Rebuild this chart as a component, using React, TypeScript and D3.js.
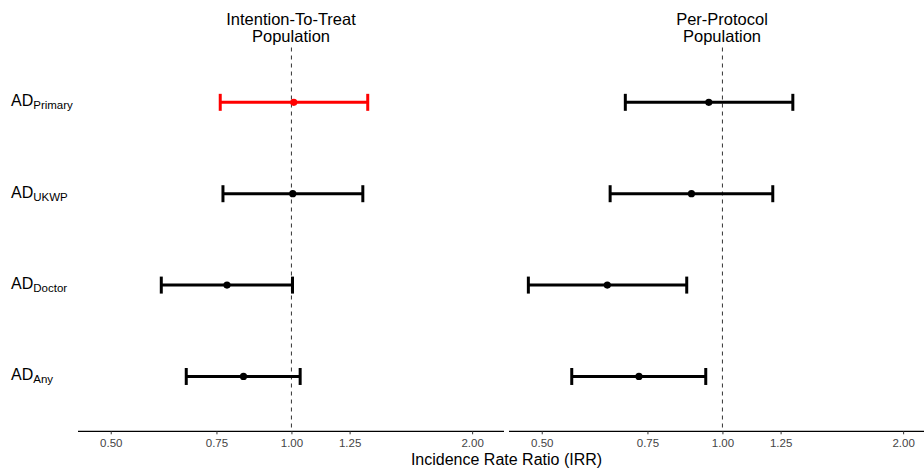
import * as d3 from 'd3';
import React, { useRef, useEffect } from 'react';

// outcome rows, top to bottom
const categories = ['Primary', 'UKWP', 'Doctor', 'Any'];

// intention-to-treat population
const ittEst = [1.009, 1.005, 0.781, 0.832];
const ittLow = [0.761, 0.769, 0.607, 0.668];
const ittHigh = [1.34, 1.315, 1.004, 1.034];

// per-protocol population
const ppEst = [0.949, 0.888, 0.643, 0.726];
const ppLow = [0.689, 0.65, 0.475, 0.561];
const ppHigh = [1.31, 1.213, 0.872, 0.938];

const tickValues = [0.5, 0.75, 1.0, 1.25, 2.0];
const panelTitles = [['Intention-To-Treat', 'Population'], ['Per-Protocol', 'Population']];
const highlight = 'Primary';

export default function App() {
    const ref = useRef<SVGSVGElement>(null);
    const width = 924, height = 468;
    const font = 'Liberation Sans, Arial, sans-serif';

    useEffect(() => {
        const svg = d3.select(ref.current);
        svg.selectAll('*').remove();

        const top = 47.5, bottom = 431.3;
        const panels = [
            { x0: 78, est: ittEst, low: ittLow, high: ittHigh, title: panelTitles[0] },
            { x0: 509, est: ppEst, low: ppLow, high: ppHigh, title: panelTitles[1] },
        ];
        const panelW = 426;

        const y = d3.scalePoint<string>().domain(categories).range([top, bottom]).padding(0.6);

        // row labels
        const labels = svg.append('g');
        categories.forEach((c) => {
            const t = labels.append('text')
                .attr('x', 11)
                .attr('y', y(c)! + 4)
                .style('font-family', font)
                .style('font-size', '16px')
                .style('fill', '#000');
            t.append('tspan').text('AD');
            t.append('tspan')
                .attr('dy', 3)
                .style('font-size', '11.5px')
                .text(c);
        });

        panels.forEach((p) => {
            const x = d3.scaleLog().domain([0.441, 2.26]).range([0, panelW]);
            const g = svg.append('g').attr('transform', `translate(${p.x0},0)`);

            // title
            const title = g.append('text')
                .attr('x', panelW / 2)
                .attr('text-anchor', 'middle')
                .style('font-family', font)
                .style('font-size', '16.5px')
                .style('fill', '#000');
            p.title.forEach((line, i) => {
                title.append('tspan').attr('x', panelW / 2).attr('y', 25 + i * 17).text(line);
            });

            // reference line at 1
            g.append('line')
                .attr('x1', x(1)).attr('x2', x(1))
                .attr('y1', top).attr('y2', bottom)
                .attr('stroke', '#333')
                .attr('stroke-width', 1)
                .attr('stroke-dasharray', '4,4');

            // error bars
            const capH = 8.5;
            categories.forEach((c, i) => {
                const col = c === highlight && p.x0 === 78 ? '#ff0000' : '#000';
                const cy = y(c)!;
                const bar = g.append('g').attr('stroke', col).attr('stroke-width', 3);
                bar.append('line').attr('x1', x(p.low[i])).attr('x2', x(p.high[i])).attr('y1', cy).attr('y2', cy);
                bar.append('line').attr('x1', x(p.low[i])).attr('x2', x(p.low[i])).attr('y1', cy - capH).attr('y2', cy + capH);
                bar.append('line').attr('x1', x(p.high[i])).attr('x2', x(p.high[i])).attr('y1', cy - capH).attr('y2', cy + capH);
                g.append('circle').attr('cx', x(p.est[i])).attr('cy', cy).attr('r', 3.6).attr('fill', col);
            });

            // x axis
            const axis = g.append('g')
                .attr('transform', `translate(0,${bottom})`)
                .call(d3.axisBottom(x).tickValues(tickValues).tickFormat(d3.format('.2f')).tickSize(3).tickPadding(5));
            axis.select('.domain').attr('stroke', '#000').attr('stroke-width', 1.2).attr('d', `M0,0H${panelW}`);
            axis.selectAll('.tick line').attr('stroke', '#333').attr('stroke-width', 1);
            axis.selectAll('.tick text')
                .style('font-family', font)
                .style('font-size', '11.5px')
                .style('fill', '#444');
        });

        // axis title
        svg.append('text')
            .attr('x', (78 + 509 + panelW) / 2)
            .attr('y', 464.6)
            .attr('text-anchor', 'middle')
            .style('font-family', font)
            .style('font-size', '16px')
            .style('fill', '#000')
            .text('Incidence Rate Ratio (IRR)');
    }, []);

    return (
        <svg
            ref={ref}
            width={width}
            height={height}
            viewBox={`0 0 ${width} ${height}`}
            style={{ position: 'absolute', left: 0, top: 0, background: '#fff' }}
        />
    );
}
